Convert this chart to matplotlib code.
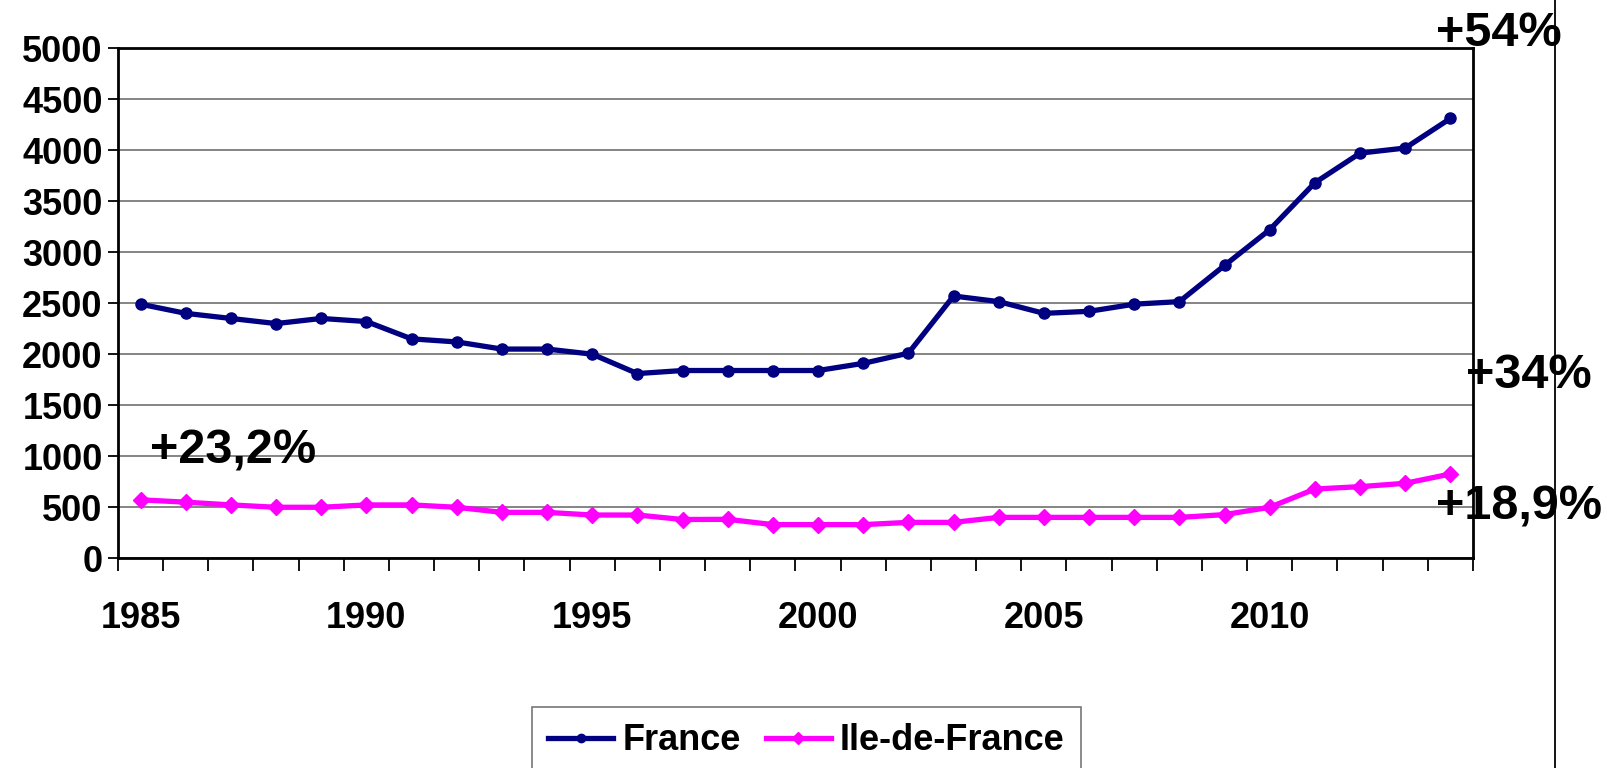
import numpy as np
import matplotlib
matplotlib.use("Agg")
import matplotlib.pyplot as plt
from matplotlib.lines import Line2D

plt.rcParams['font.family'] = ['Liberation Sans', 'DejaVu Sans']
plt.rcParams['font.weight'] = 'bold'

years = list(range(1985, 2015))
france = [2490, 2400, 2350, 2300, 2350, 2320, 2150, 2120, 2050, 2050,
          2000, 1810, 1840, 1840, 1840, 1840, 1910, 2010, 2570, 2515,
          2400, 2420, 2490, 2515, 2870, 3220, 3680, 3970, 4020, 4310]
idf = [573, 550, 523, 500, 500, 523, 523, 500, 450, 450,
       424, 424, 380, 382, 330, 330, 330, 352, 352, 401,
       401, 401, 401, 401, 428, 500, 679, 702, 735, 826]
yticks = list(range(0, 5001, 500))
label_years = [1985, 1990, 1995, 2000, 2005, 2010]

fig = plt.figure(figsize=(16.07, 7.68), dpi=100)
ax = fig.add_axes([118 / 1607, 1 - 558.3 / 768, (1473 - 118) / 1607, (558.3 - 48) / 768])

x = np.arange(len(years))
ax.plot(x, france, color='#000080', lw=3.8, marker='o', ms=8, label='France', zorder=3)
ax.plot(x, idf, color='#FF00FF', lw=3.8, marker='D', ms=8, label='Ile-de-France', zorder=3)

ax.set_xlim(-0.5, len(years) - 0.5)
ax.set_ylim(0, 5000)
ax.set_yticks(yticks)
ax.set_yticklabels([str(v) for v in yticks], fontsize=26, fontweight='bold')
ax.yaxis.grid(True, color='#707070', lw=1.2)
ax.set_axisbelow(True)

ax.set_xticks([years.index(y) for y in label_years])
ax.set_xticklabels([str(y) for y in label_years], fontsize=26, fontweight='bold')
ax.set_xticks(np.arange(-0.5, len(years)), minor=True)
ax.tick_params(axis='x', which='major', length=0, pad=31)
ax.tick_params(axis='x', which='minor', length=9, width=1.3, direction='out')
ax.tick_params(axis='y', length=7, width=1.3, pad=4)

for s in ax.spines.values():
    s.set_linewidth(2)
    s.set_color('black')

# percentage labels
ax.text(1436 / 1607, 1 - 34 / 768, '+54%', transform=fig.transFigure, fontsize=35,
        fontweight='bold', va='center', ha='left')
ax.text(1466 / 1607, 1 - 375 / 768, '+34%', transform=fig.transFigure, fontsize=35,
        fontweight='bold', va='center', ha='left')
ax.text(1436 / 1607, 1 - 507 / 768, '+18,9%', transform=fig.transFigure, fontsize=35,
        fontweight='bold', va='center', ha='left')
ax.text(150 / 1607, 1 - 451 / 768, '+23,2%', transform=fig.transFigure, fontsize=35,
        fontweight='bold', va='center', ha='left')

# stray vertical line on the right
fig.add_artist(Line2D([1555 / 1607, 1555 / 1607], [0, 1], color='black', lw=1.3,
                      transform=fig.transFigure))

leg = ax.legend(loc='upper left', bbox_to_anchor=(532 / 1607, 1 - 707 / 768),
                bbox_transform=fig.transFigure, ncol=2, frameon=True,
                fancybox=False, edgecolor='#555555', handlelength=1.8,
                handletextpad=0.25, columnspacing=0.7, borderpad=0.45,
                borderaxespad=0, prop={'weight': 'bold', 'size': 26})
leg.get_frame().set_linewidth(1.2)
for h in leg.legend_handles:
    h.set_markersize(6)

fig.savefig('out.png', dpi=100)
